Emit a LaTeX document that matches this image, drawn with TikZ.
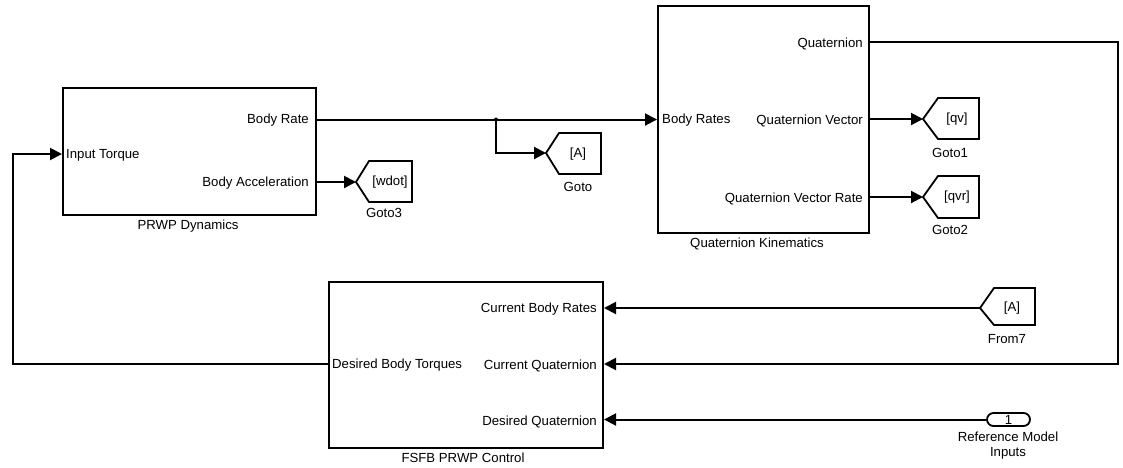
\documentclass[tikz,border=0pt]{standalone}
\usepackage{fontspec}
\setmainfont{Liberation Sans}
\usetikzlibrary{arrows.meta}
\begin{document}
\begin{tikzpicture}[x=1pt,y=-1pt,
  font=\fontsize{13.2}{15}\selectfont,
  blk/.style={draw, line width=2pt, inner sep=0pt, anchor=north west},
  lbl/.style={inner sep=0pt, anchor=east, yshift=-1.5pt},
  lbll/.style={inner sep=0pt, anchor=west, yshift=-1.5pt},
  captxt/.style={inner sep=0pt, anchor=center, align=center, yshift=-1pt},
  gotoshape/.style={draw, line width=1.8pt, line join=miter},
  wire/.style={line width=2pt},
  sig/.style={wire, -{Triangle[length=12pt,width=12pt]}}]
\useasboundingbox (0,0) rectangle (1123,467);

% PRWP Dynamics
\node[blk, minimum width=253pt, minimum height=127pt] (dyn) at (62,87) {};
\node[lbll] (dynit) at (66,154) {Input Torque};
\node[lbl] (dynbr) at (309,119) {Body Rate};
\node[lbl] (dynba) at (309,182) {Body Acceleration};
\node[captxt] (dyncap) at (188,225) {PRWP Dynamics};

% Quaternion Kinematics
\node[blk, minimum width=211pt, minimum height=227pt] (qk) at (657,5) {};
\node[lbll] (qkbr) at (662,119) {Body Rates};
\node[lbl] (qkq) at (863,42) {Quaternion};
\node[lbl] (qkqv) at (863,119) {Quaternion Vector};
\node[lbl] (qkqvr) at (863,197) {Quaternion Vector Rate};
\node[captxt] (qkcap) at (757,243) {Quaternion Kinematics};

% FSFB PRWP Control
\node[blk, minimum width=274pt, minimum height=166pt] (fs) at (328,281) {};
\node[lbll] (fsdbt) at (332,364) {Desired Body Torques};
\node[lbl] (fscbr) at (597,308) {Current Body Rates};
\node[lbl] (fscq) at (597,364) {Current Quaternion};
\node[lbl] (fsdq) at (597,420) {Desired Quaternion};
\node[captxt] (fscap) at (463,457) {FSFB PRWP Control};

% Goto3 [wdot]
\coordinate (g3) at (356,182);
\draw[gotoshape] (g3) -- (369,161) -- (412,161) -- (412,202) -- (369,202) -- cycle;
\node[captxt] (g3t) at (390,181) {[wdot]};
\node[captxt] (g3c) at (384,212) {Goto3};

% Goto [A]
\coordinate (g0) at (546,153);
\draw[gotoshape] (g0) -- (559,133) -- (601,133) -- (601,174) -- (559,174) -- cycle;
\node[captxt] (g0t) at (578,153) {[A]};
\node[captxt] (g0c) at (578,186) {Goto};

% Goto1 [qv]
\coordinate (g1) at (923,119);
\draw[gotoshape] (g1) -- (938,98) -- (979,98) -- (979,139) -- (938,139) -- cycle;
\node[captxt] (g1t) at (957,118) {[qv]};
\node[captxt] (g1c) at (950,152) {Goto1};

% Goto2 [qvr]
\coordinate (g2) at (923,197);
\draw[gotoshape] (g2) -- (938,176) -- (979,176) -- (979,218) -- (938,218) -- cycle;
\node[captxt] (g2t) at (957,196) {[qvr]};
\node[captxt] (g2c) at (950,229) {Goto2};

% From7 [A]
\coordinate (f7) at (980,308);
\draw[gotoshape] (f7) -- (994,288) -- (1035,288) -- (1035,325) -- (994,325) -- cycle;
\node[captxt] (f7t) at (1012,307) {[A]};
\node[captxt] (f7c) at (1007,338) {From7};

% Inport 1
\node[draw, line width=1.8pt, rounded corners=6.5pt, minimum width=43pt, minimum height=13pt, inner sep=0pt] (in1) at (1008.5,419.5) {};
\node[captxt] (in1t) at (1008.5,419) {1};
\node[captxt] (in1c) at (1008,445) {Reference Model\\Inputs};

% Connectors
\coordinate (jn) at (496,119.5);
\draw[sig] (dyn.east |- jn) -- (qk.west |- jn);
\fill (jn) circle (2pt);
\draw[sig] (jn) |- (g0);
\draw[sig] (dyn.east |- g3) -- (g3);
\draw[sig] (qk.east |- g1) -- (g1);
\draw[sig] (qk.east |- g2) -- (g2);
\coordinate (qcorner) at (1118,42);
\draw[sig] (qk.east |- qcorner) -- (qcorner) |- (fs.east |- 0,364);
\draw[sig] (f7) -- (fs.east |- f7);
\draw[sig] (in1.west) -- (fs.east |- in1.west);
\coordinate (fbk) at (13,364);
\draw[sig] (fs.west |- fbk) -- (fbk) |- (dyn.west |- 0,154);
\end{tikzpicture}
\end{document}
